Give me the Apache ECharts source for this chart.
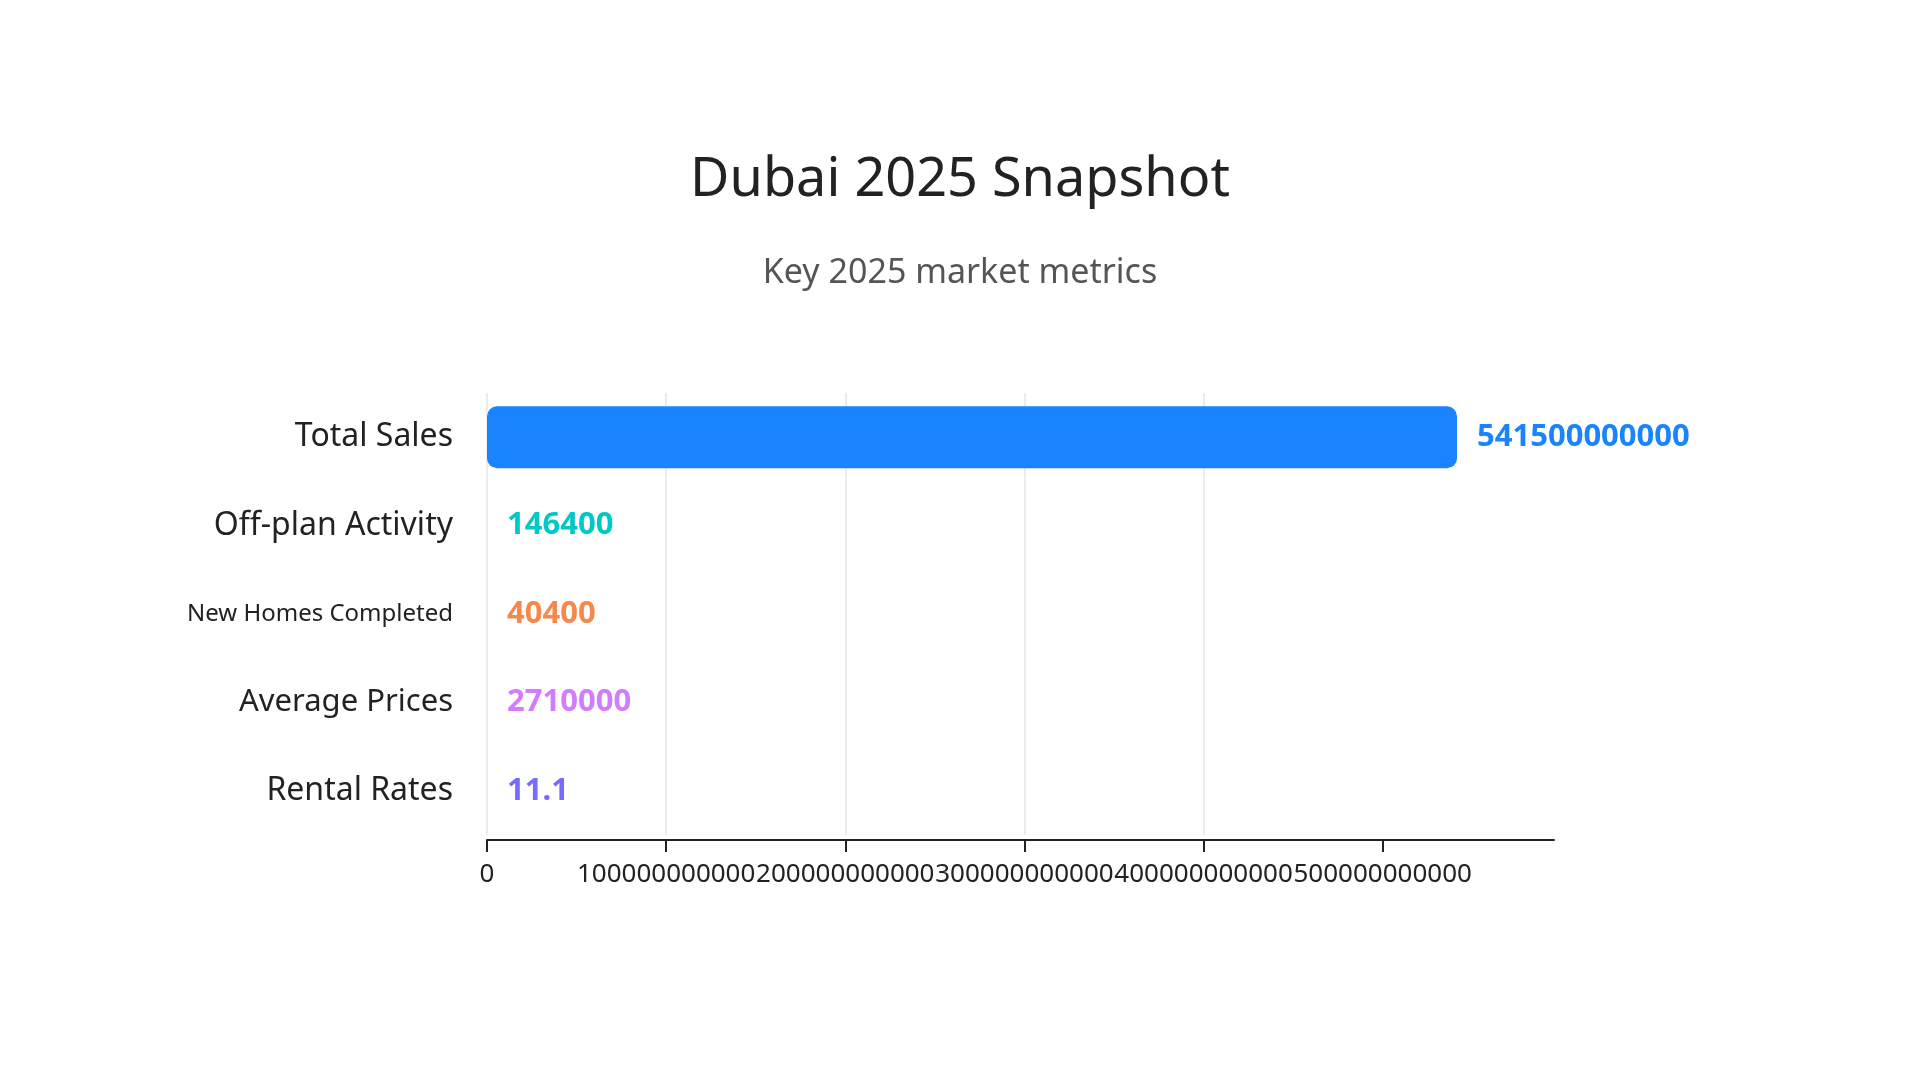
<!DOCTYPE html>
<html>
<head>
<meta charset="utf-8">
<title>Dubai 2025 Snapshot</title>
<script src="https://cdn.jsdelivr.net/npm/echarts@6/dist/echarts.min.js"></script>
<style>
  html, body { margin: 0; padding: 0; background: #fff; }
  #chart { width: 1920px; height: 1080px; }
</style>
</head>
<body>
<div id="chart"></div>
<script>
// chart data
const categories = ['Total Sales', 'Off-plan Activity', 'New Homes Completed', 'Average Prices', 'Rental Rates']
const values = [541500000000, 146400, 40400, 2710000, 11.1]
const barColors = ['#1a84ff', '#00c8c8', '#f5884a', '#d27cff', '#7a6bff']
const labelSizes = [32, 32, 24, 31, 32]
const tickValues = [0, 100000000000, 200000000000, 300000000000, 400000000000, 500000000000]

const FONT = '"Noto Sans", sans-serif'

const chart = echarts.init(document.getElementById('chart'))

const option = {
  backgroundColor: '#fff',
  textStyle: { fontFamily: FONT },
  title: {
    text: 'Dubai 2025 Snapshot',
    subtext: 'Key 2025 market metrics',
    left: 'center',
    top: 149,
    itemGap: 48,
    textStyle: { fontSize: 54, fontWeight: 'normal', color: '#222', fontFamily: FONT },
    subtextStyle: { fontSize: 34, color: '#555', fontFamily: FONT }
  },
  grid: {
    left: 487,
    right: 366,
    top: 393,
    height: 442,
    containLabel: false
  },
  xAxis: {
    type: 'value',
    min: 0,
    max: Math.max(...values) * 1.1,
    interval: 100000000000,
    offset: 5,
    axisLine: { show: true, lineStyle: { color: '#222', width: 2 } },
    axisTick: { show: true, length: 12, customValues: tickValues, lineStyle: { color: '#222', width: 2 } },
    axisLabel: {
      fontSize: 26,
      color: '#222',
      margin: 22,
      customValues: tickValues,
      fontFamily: FONT,
      formatter: (v) => String(v)
    },
    splitLine: { show: true, showMaxLine: false, lineStyle: { color: '#ececec', width: 2 } }
  },
  yAxis: {
    type: 'category',
    inverse: true,
    data: categories.map((c, i) => ({ value: c, textStyle: { fontSize: labelSizes[i] } })),
    axisLine: { show: false },
    axisTick: { show: false },
    axisLabel: { color: '#222', margin: 34, fontFamily: FONT }
  },
  series: [
    {
      type: 'bar',
      barWidth: 62,
      data: values.map((v, i) => ({
        value: v,
        itemStyle: { color: barColors[i], borderRadius: 10 },
        label: { color: barColors[i] }
      })),
      label: {
        show: true,
        position: 'right',
        distance: 20,
        fontSize: 31,
        fontWeight: 'bold',
        fontFamily: FONT
      }
    }
  ]
}

chart.setOption(option)
</script>
</body>
</html>
